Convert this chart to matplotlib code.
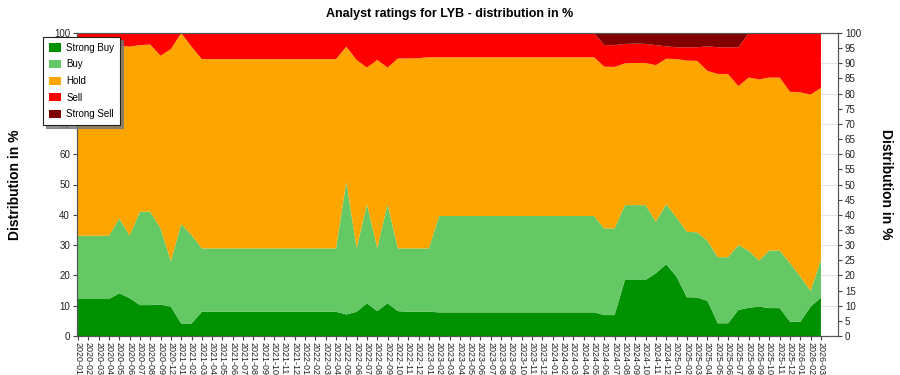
import matplotlib
matplotlib.use('Agg')
import matplotlib.pyplot as plt
from matplotlib.patches import Patch
import numpy as np

plt.rcParams['font.family'] = ['Liberation Sans', 'DejaVu Sans']

# --- colours ---
C_SB = '#009100'
C_B = '#64C864'
C_H = '#FFA500'
C_S = '#FF0000'
C_SS = '#800000'

months = [
    '2020-01', '2020-02', '2020-03', '2020-04', '2020-05', '2020-06', '2020-07',
    '2020-08', '2020-09', '2020-12',
    '2021-01', '2021-02', '2021-03', '2021-04', '2021-05', '2021-06', '2021-07',
    '2021-08', '2021-09', '2021-10', '2021-11', '2021-12',
    '2022-01', '2022-02', '2022-03', '2022-04', '2022-05', '2022-06', '2022-07',
    '2022-08', '2022-09', '2022-10', '2022-11', '2022-12',
    '2023-01', '2023-02', '2023-03', '2023-04', '2023-05', '2023-06', '2023-07',
    '2023-08', '2023-09', '2023-10', '2023-11', '2023-12',
    '2024-01', '2024-02', '2024-03', '2024-04', '2024-05', '2024-06', '2024-07',
    '2024-08', '2024-09', '2024-10', '2024-11', '2024-12',
    '2025-01', '2025-02', '2025-03', '2025-04', '2025-05', '2025-06', '2025-07',
    '2025-08', '2025-09', '2025-10', '2025-11', '2025-12',
    '2026-01', '2026-02', '2026-03',
]

strong_buy = [
    12.2, 12.2, 12.2, 12.2, 14.1, 12.5, 10.2, 10.2, 10.4, 9.7,
    4.1, 4.1, 8.0, 8.0, 8.0, 8.0, 8.0, 8.0, 8.0, 8.0, 8.0, 8.0,
    8.0, 8.0, 8.0, 8.0, 7.1, 8.0, 10.8, 8.2, 10.8, 8.2, 8.0, 8.0,
    8.0, 7.8, 7.8, 7.8, 7.8, 7.8, 7.8, 7.8, 7.8, 7.8, 7.8, 7.8,
    7.8, 7.8, 7.8, 7.8, 7.8, 6.9, 6.9, 18.5, 18.5, 18.5, 20.7, 23.7,
    19.6, 12.8, 12.7, 11.6, 4.2, 4.2, 8.6, 9.3, 9.7, 9.2, 9.2, 4.7,
    4.7, 9.7, 12.7,
]
buy = [
    20.9, 20.9, 20.9, 20.9, 24.7, 20.6, 30.8, 30.8, 25.1, 15.0,
    32.8, 29.2, 20.9, 20.9, 20.9, 20.9, 20.9, 20.9, 20.9, 20.9, 20.9, 20.9,
    20.9, 20.9, 20.9, 20.9, 43.8, 21.0, 32.7, 20.8, 32.7, 20.7, 20.9, 20.9,
    20.9, 31.8, 31.8, 31.8, 31.8, 31.8, 31.8, 31.8, 31.8, 31.8, 31.8, 31.8,
    31.8, 31.8, 31.8, 31.8, 31.8, 28.6, 28.6, 24.7, 24.7, 24.7, 17.0, 19.8,
    19.5, 21.6, 21.5, 19.8, 21.8, 21.8, 21.4, 18.8, 15.2, 19.0, 19.0, 19.3,
    14.9, 5.2, 12.6,
]
hold = [
    63.4, 63.4, 63.4, 63.4, 57.0, 62.4, 55.0, 55.2, 57.0, 70.0,
    63.1, 62.2, 62.5, 62.5, 62.5, 62.5, 62.5, 62.5, 62.5, 62.5, 62.5, 62.5,
    62.5, 62.5, 62.5, 62.5, 44.6, 62.1, 45.1, 62.1, 45.1, 62.7, 62.7, 62.8,
    63.1, 52.4, 52.4, 52.4, 52.4, 52.4, 52.4, 52.4, 52.4, 52.4, 52.4, 52.4,
    52.4, 52.4, 52.4, 52.4, 52.4, 53.4, 53.3, 46.8, 46.9, 46.9, 51.7, 48.0,
    52.3, 56.5, 56.6, 56.1, 60.5, 60.4, 52.5, 57.2, 59.8, 57.1, 57.1, 56.6,
    60.8, 64.8, 56.6,
]
sell = [
    3.5, 3.5, 3.5, 3.5, 4.2, 4.5, 4.0, 3.8, 7.5, 5.3,
    0.0, 4.5, 8.6, 8.6, 8.6, 8.6, 8.6, 8.6, 8.6, 8.6, 8.6, 8.6,
    8.6, 8.6, 8.6, 8.6, 4.5, 8.9, 11.4, 8.9, 11.4, 8.4, 8.4, 8.3,
    8.0, 8.0, 8.0, 8.0, 8.0, 8.0, 8.0, 8.0, 8.0, 8.0, 8.0, 8.0,
    8.0, 8.0, 8.0, 8.0, 8.0, 7.1, 7.2, 6.4, 6.4, 6.3, 6.6, 4.1,
    3.9, 4.4, 4.5, 8.1, 8.8, 8.9, 12.8, 14.7, 15.3, 14.7, 14.7, 19.4,
    19.6, 20.3, 18.1,
]
strong_sell = [
    0.0, 0.0, 0.0, 0.0, 0.0, 0.0, 0.0, 0.0, 0.0, 0.0,
    0.0, 0.0, 0.0, 0.0, 0.0, 0.0, 0.0, 0.0, 0.0, 0.0, 0.0, 0.0,
    0.0, 0.0, 0.0, 0.0, 0.0, 0.0, 0.0, 0.0, 0.0, 0.0, 0.0, 0.0,
    0.0, 0.0, 0.0, 0.0, 0.0, 0.0, 0.0, 0.0, 0.0, 0.0, 0.0, 0.0,
    0.0, 0.0, 0.0, 0.0, 0.0, 4.0, 4.0, 3.6, 3.5, 3.6, 4.0, 4.4,
    4.7, 4.7, 4.7, 4.4, 4.7, 4.7, 4.7, 0.0, 0.0, 0.0, 0.0, 0.0,
    0.0, 0.0, 0.0,
]

labels = ['Strong Buy', 'Buy', 'Hold', 'Sell', 'Strong Sell']
colors = [C_SB, C_B, C_H, C_S, C_SS]

x = np.arange(len(months))

fig = plt.figure(figsize=(9, 3.75), dpi=100)
ax = fig.add_axes([77 / 900, 1 - 336 / 375, 761 / 900, 303 / 375])

ax.stackplot(x, strong_buy, buy, hold, sell, strong_sell,
             colors=colors, linewidth=0, zorder=2)

ax.set_xlim(-0.1, len(months) - 1 + 1.65)
ax.set_ylim(0, 100)
left_ticks = list(range(0, 101, 10))
ax.set_yticks(left_ticks)
# 80 and 90 sit behind the legend box in the original
ax.set_yticklabels(['' if v in (80, 90) else str(v) for v in left_ticks])
ax.grid(axis='y', color='#E4E4E4', linewidth=0.8, zorder=0)
ax.set_axisbelow(True)

ax.set_xticks(x)
ax.set_xticklabels(months, rotation=270, fontsize=6.5, color='#222')
ax.tick_params(axis='x', length=3, pad=1, color='#444')
ax.tick_params(axis='y', labelsize=7, length=3, pad=2, color='#444', labelcolor='#222')
ax.set_ylabel('Distribution in %', fontsize=10, fontweight='bold', labelpad=23)

ax2 = ax.twinx()
ax2.set_ylim(0, 100)
ax2.set_yticks(range(0, 101, 5))
ax2.tick_params(axis='y', labelsize=7, length=3, pad=2, color='#444', labelcolor='#222')
ax2.set_ylabel('Distribution in %', fontsize=10, fontweight='bold', rotation=270, labelpad=23)

for a in (ax, ax2):
    for spine in a.spines.values():
        spine.set_edgecolor('#555')
        spine.set_linewidth(0.8)

fig.text(0.5, 1 - 14 / 375, 'Analyst ratings for LYB - distribution in %',
         ha='center', va='center', fontsize=9, fontweight='bold')

handles = [Patch(facecolor=c, edgecolor='none') for c in colors]
leg = fig.legend(handles, labels, loc='upper left',
                 bbox_to_anchor=(43 / 900, 1 - 37 / 375),
                 fontsize=7, frameon=True, fancybox=False,
                 shadow={'color': '#777', 'alpha': 0.8},
                 handlelength=1.3, handleheight=0.9, handletextpad=0.5,
                 labelspacing=0.68, borderpad=0.6, borderaxespad=0)
leg.get_frame().set_edgecolor('#222')
leg.get_frame().set_linewidth(0.8)
leg.set_zorder(10)

fig.savefig('out.png', dpi=100, facecolor='white')
